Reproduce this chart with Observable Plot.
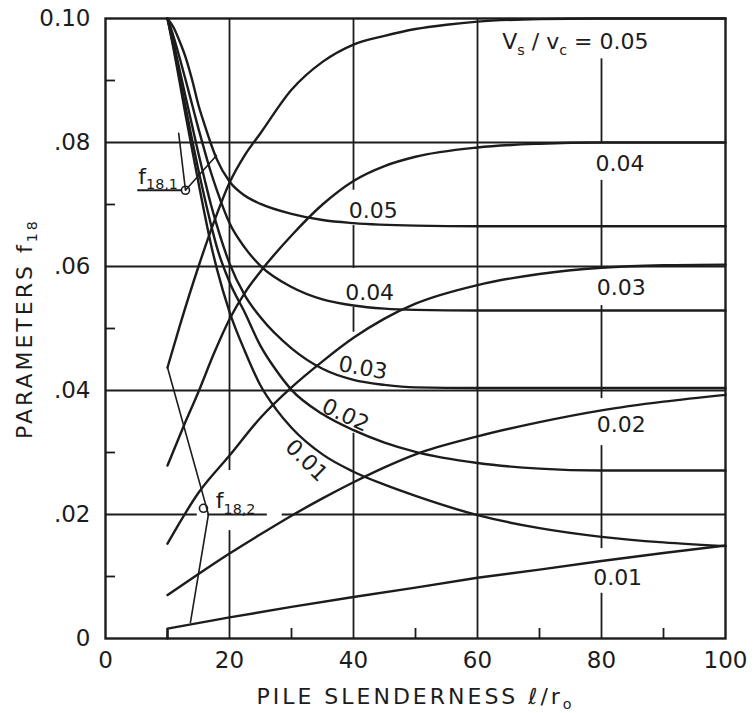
<!DOCTYPE html>
<html>
<head>
<meta charset="utf-8">
<script src="https://cdn.jsdelivr.net/npm/d3@7"></script>
<script src="https://cdn.jsdelivr.net/npm/@observablehq/plot@0.6"></script>
<style>
  html, body { margin: 0; padding: 0; background: #fff; }
</style>
</head>
<body>
<div id="chart"></div>
<script>
// ---------- axis ticks ----------
const xTicks = [0, 20, 40, 60, 80, 100];
const yTicks = [0, 0.02, 0.04, 0.06, 0.08, 0.10];
const yTickLabels = ["0", ".02", ".04", ".06", ".08", "0.10"];
const xMinor = [10, 30, 50, 70, 90];
const yMinor = [0.01, 0.03, 0.05, 0.07, 0.09];

// ---------- f18,1 (falling) curves, Vs/vc = 0.05 ... 0.01 ----------
const fallX05 = [10, 11, 12, 13, 14, 15, 16, 17, 18, 20, 22.5, 25, 30, 35, 40, 50, 60, 100];
const fallY05 = [0.1000, 0.0985, 0.0962, 0.0935, 0.0900, 0.0860, 0.0828, 0.0798, 0.0772, 0.0737, 0.0714, 0.0701, 0.0685, 0.0675, 0.0670, 0.0666, 0.0665, 0.0665];
const fallX04 = [10, 11, 12, 13, 14, 15, 16, 17, 18, 20, 22.5, 25, 30, 35, 40, 45, 50, 60, 100];
const fallY04 = [0.1000, 0.0970, 0.0935, 0.0898, 0.0860, 0.0822, 0.0786, 0.0752, 0.0722, 0.0670, 0.0630, 0.0601, 0.0567, 0.0547, 0.0537, 0.0532, 0.0530, 0.0529, 0.0529];
const fallX03 = [10, 11, 12, 13, 14, 15, 16, 17, 18, 20, 22.5, 25, 30, 35, 40, 45, 50, 60, 100];
const fallY03 = [0.1000, 0.0960, 0.0915, 0.0870, 0.0826, 0.0782, 0.0740, 0.0700, 0.0665, 0.0605, 0.0553, 0.0518, 0.0468, 0.0435, 0.0417, 0.0409, 0.0405, 0.0404, 0.0404];
const fallX02 = [10, 11, 12, 13, 14, 15, 16, 17, 18, 20, 22.5, 25, 27.5, 30, 35, 40, 45, 50, 60, 70, 80, 100];
const fallY02 = [0.1000, 0.0953, 0.0903, 0.0853, 0.0803, 0.0755, 0.0710, 0.0668, 0.0630, 0.0575, 0.0525, 0.0472, 0.0433, 0.0401, 0.0362, 0.0336, 0.0316, 0.0301, 0.0283, 0.0274, 0.0271, 0.0271];
const fallX01 = [10, 11, 12, 13, 14, 15, 16, 17, 18, 20, 22.5, 25, 27.5, 30, 35, 40, 45, 50, 60, 70, 80, 90, 100];
const fallY01 = [0.1000, 0.0950, 0.0895, 0.0840, 0.0787, 0.0735, 0.0684, 0.0636, 0.0595, 0.0527, 0.0463, 0.0408, 0.0370, 0.0340, 0.0297, 0.0269, 0.0248, 0.0230, 0.0199, 0.0178, 0.0164, 0.0155, 0.0149];

// ---------- f18,2 (rising) curves ----------
const riseX05 = [10, 12, 15, 17.5, 20, 22.5, 25, 30, 35, 40, 45, 50, 55, 60, 70, 80, 100];
const riseY05 = [0.0437, 0.0505, 0.0600, 0.0672, 0.0735, 0.0780, 0.0815, 0.0885, 0.0930, 0.0958, 0.0972, 0.0983, 0.0990, 0.0995, 0.0999, 0.1000, 0.1000];
const riseX04 = [10, 12.5, 15, 17.5, 20, 22.5, 25, 30, 35, 40, 45, 50, 60, 70, 80, 100];
const riseY04 = [0.0279, 0.0340, 0.0398, 0.0460, 0.0515, 0.0558, 0.0592, 0.0650, 0.0700, 0.0738, 0.0762, 0.0777, 0.0792, 0.0798, 0.0800, 0.0800];
const riseX03 = [10, 15, 20, 25, 30, 35, 40, 45, 50, 60, 70, 80, 90, 100];
const riseY03 = [0.0153, 0.0235, 0.0295, 0.0356, 0.0405, 0.0447, 0.0485, 0.0516, 0.0540, 0.0570, 0.0588, 0.0598, 0.0602, 0.0603];
const riseX02 = [10, 15, 20, 25, 30, 35, 40, 45, 50, 60, 70, 80, 90, 100];
const riseY02 = [0.0070, 0.0104, 0.0137, 0.0168, 0.0198, 0.0226, 0.0252, 0.0276, 0.0297, 0.0326, 0.0349, 0.0368, 0.0382, 0.0393];
const riseX01 = [10, 10, 20, 30, 40, 50, 60, 70, 80, 90, 100];
const riseY01 = [0, 0.0016, 0.0034, 0.0051, 0.0067, 0.0082, 0.0098, 0.0111, 0.0125, 0.0138, 0.0150];

// ---------- marker loci ----------
const locus1X = [11.8, 12.9, 17.9];
const locus1Y = [0.0815, 0.0723, 0.0779];
const locus2X = [10.0, 16.6, 13.7];
const locus2Y = [0.0437, 0.0200, 0.0026];
const markerX = [12.9, 15.8];
const markerY = [0.0723, 0.0210];
const leader1X = [5.2, 12.4];
const leader1Y = 0.0723;

// ---------- gridline segments (data units) ----------
const gridX  = [20, 20, 40, 40, 40, 40, 60, 80, 80, 80, 80, 80];
const gridY1 = [0, 0.0271, 0, 0.0494, 0.0597, 0.0723, 0, 0, 0.0145, 0.0387, 0.0598, 0.0800];
const gridY2 = [0.0174, 0.1, 0.0331, 0.0534, 0.0666, 0.1, 0.1, 0.0073, 0.0311, 0.0537, 0.0739, 0.0935];
const gridYv = [0.02, 0.02, 0.02, 0.04, 0.06, 0.08];
const gridX1 = [0, 16.5, 28.5, 0, 0, 0];
const gridX2 = [14.8, 26.1, 100, 100, 100, 100];

// ---------- curve labels (centred) ----------
const labelText = ["0.04", "0.03", "0.02", "0.01", "0.05", "0.04", "0.03", "0.02", "0.01"];
const labelX = [83.0, 83.2, 83.2, 82.6, 43.2, 42.6, 41.5, 38.7, 32.4];
const labelY = [0.0766, 0.0566, 0.0344, 0.0097, 0.0689, 0.0557, 0.0436, 0.0360, 0.0287];
const labelRotate = [0, 0, 0, 0, 0, 0, 10, 25, 45];
// ---------- labels anchored at their start ----------
const startText = ["V_{s} / v_{c} = 0.05", "f_{18,1}", "f_{18,2}"];
const startX = [64.0, 5.3, 17.8];
const startY = [0.0962, 0.0745, 0.0222];

const xTitle = "PILE SLENDERNESS ℓ/r_{o}";
const yTitle = "PARAMETERS f_{18}";

// ---------- build tables ----------
const series = (key, xs, ys) => xs.map((x, i) => ({key, x, y: ys[i]}));
const smoothRows = [
  ...series("f05", fallX05, fallY05), ...series("f04", fallX04, fallY04),
  ...series("f03", fallX03, fallY03), ...series("f02", fallX02, fallY02),
  ...series("f01", fallX01, fallY01),
  ...series("r05", riseX05, riseY05), ...series("r04", riseX04, riseY04),
  ...series("r03", riseX03, riseY03), ...series("r02", riseX02, riseY02)
];
const linearRows = series("r01", riseX01, riseY01);
const locusRows = [...series("l1", locus1X, locus1Y), ...series("l2", locus2X, locus2Y)];

const ink = "#1c1c1c";
const gIdx = d3.range(gridX.length);
const hIdx = d3.range(gridYv.length);
const lIdx = d3.range(labelText.length);
const sIdx = d3.range(startText.length);

const svg = Plot.plot({
  width: 756,
  height: 713,
  marginLeft: 105,
  marginRight: 31,
  marginTop: 18,
  marginBottom: 75,
  x: {domain: [0, 100]},
  y: {domain: [0, 0.10]},
  style: {fontFamily: "'DejaVu Sans', sans-serif", fontSize: "23px", background: "#fff", color: ink},
  marks: [
    // grid
    Plot.ruleX(gIdx, {x: i => gridX[i], y1: i => gridY1[i], y2: i => gridY2[i], stroke: ink, strokeWidth: 1.8}),
    Plot.ruleY(hIdx, {y: i => gridYv[i], x1: i => gridX1[i], x2: i => gridX2[i], stroke: ink, strokeWidth: 1.8}),
    // minor inward ticks
    Plot.tickY(yMinor, {y: d => d, insetRight: 610, stroke: ink, strokeWidth: 1.8}),
    Plot.tickX(xMinor, {x: d => d, insetTop: 610, stroke: ink, strokeWidth: 1.8}),
    // curves
    Plot.line(smoothRows, {x: "x", y: "y", z: "key", curve: "monotone-x", stroke: ink, strokeWidth: 2.4}),
    Plot.line(linearRows, {x: "x", y: "y", z: "key", curve: "linear", stroke: ink, strokeWidth: 2.4}),
    Plot.line(locusRows, {x: "x", y: "y", z: "key", curve: "linear", stroke: ink, strokeWidth: 1.6}),
    Plot.ruleY([leader1Y], {y: d => d, x1: leader1X[0], x2: leader1X[1], stroke: ink, strokeWidth: 1.8}),
    Plot.dot(d3.range(markerX.length), {x: i => markerX[i], y: i => markerY[i], r: 4, fill: "none", stroke: ink, strokeWidth: 1.6}),
    // frame
    Plot.frame({stroke: ink, strokeWidth: 2.4}),
    // axes
    Plot.axisX({ticks: xTicks, tickSize: 0, tickPadding: 13, label: null, fontSize: 23}),
    Plot.axisY({ticks: yTicks, tickSize: 0, tickPadding: 15, label: null, fontSize: 23,
                tickFormat: d => yTickLabels[yTicks.indexOf(d)]}),
    // labels
    Plot.text(lIdx, {x: i => labelX[i], y: i => labelY[i], text: i => labelText[i],
                     rotate: i => labelRotate[i], textAnchor: "middle", fontSize: 22, fill: ink}),
    Plot.text(sIdx, {x: i => startX[i], y: i => startY[i], text: i => startText[i],
                     textAnchor: "start", fontSize: 22, fill: ink}),
    Plot.text([xTitle], {text: d => d, frameAnchor: "bottom", dy: 58, textAnchor: "middle", lineAnchor: "middle", fontSize: 22, fill: ink}),
    Plot.text([yTitle], {text: d => d, frameAnchor: "left", dx: -81, rotate: -90, textAnchor: "middle", lineAnchor: "middle", fontSize: 22, fill: ink})
  ]
});

// rich text: turn _{...} into subscript tspans
const NS = "http://www.w3.org/2000/svg";
d3.select(svg).selectAll("text").each(function () {
  const t = this.textContent;
  if (t.startsWith("PILE") || t.startsWith("PARAM")) this.setAttribute("letter-spacing", "3");
  if (!t.includes("_{")) return;
  const parts = t.split(/(_\{[^}]*\})/).filter(s => s);
  this.textContent = "";
  let down = false;
  for (const p of parts) {
    const ts = document.createElementNS(NS, "tspan");
    if (p.startsWith("_{")) {
      ts.textContent = p.slice(2, -1);
      ts.setAttribute("font-size", "65%");
      ts.setAttribute("dy", "0.4em");
      down = true;
    } else {
      ts.textContent = p;
      if (down) { ts.setAttribute("dy", "-0.26em"); down = false; }
    }
    this.appendChild(ts);
  }
});

document.getElementById("chart").appendChild(svg);
</script>
</body>
</html>
